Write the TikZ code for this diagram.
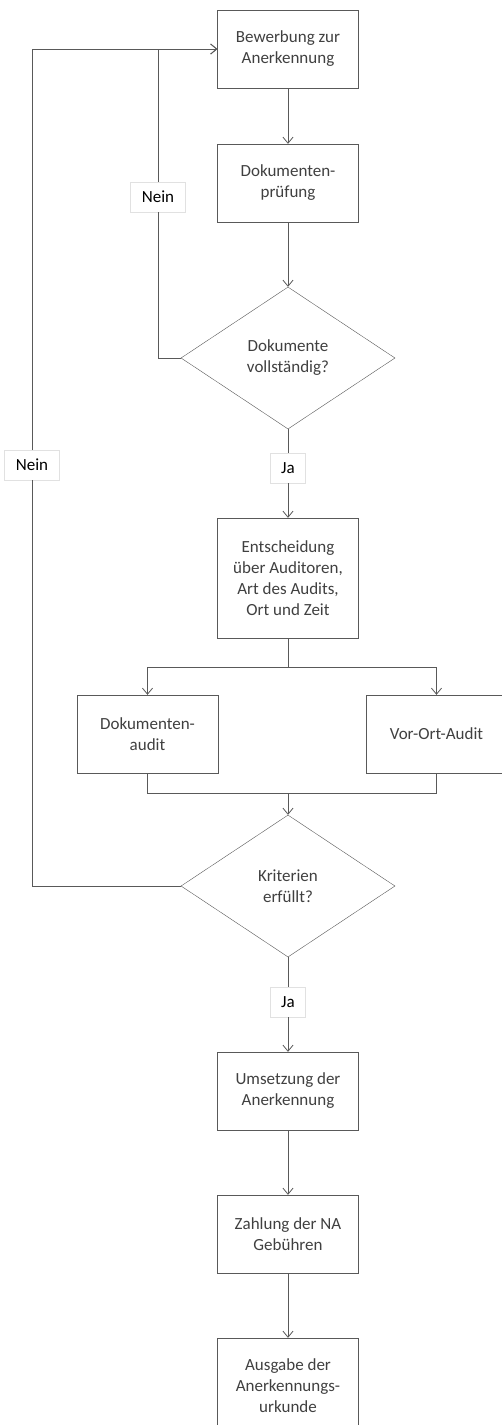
\documentclass[tikz,border=0pt]{standalone}
\usepackage{fontspec}
\setmainfont{Carlito}
\usepackage{xcolor}
\usetikzlibrary{arrows.meta, shapes.geometric, positioning}
\definecolor{LineGray}{RGB}{89,89,89}
\definecolor{TextGray}{RGB}{64,64,64}
\definecolor{FrameGray}{RGB}{225,225,225}
\tikzset{
	procbox/.style={draw=LineGray, fill=white, text=TextGray, align=center,
		minimum width=141pt, minimum height=78pt, inner sep=2pt},
	decision/.style={draw=LineGray, fill=white, text=TextGray, align=center,
		diamond, aspect=1.5, minimum width=214pt, minimum height=142pt, inner sep=0pt},
	answer/.style={draw=FrameGray, fill=white, text=black,
		minimum width=35pt, minimum height=30pt, inner sep=2pt},
	flow/.style={draw=LineGray, line width=0.8pt},
	tip/.style={-{Straight Barb[length=6pt, width=10pt]}}
}

\begin{document}
\begin{tikzpicture}[x=1pt, y=-1pt, font=\fontsize{17pt}{21pt}\selectfont]
				\fill[white] (0,0) rectangle (501,1425);
				\useasboundingbox (0,0) rectangle (501,1425);
				\node[procbox] (bew) at (288,49) {Bewerbung zur\\Anerkennung};
				\node[procbox] (pruef) at (288,183) {Dokumenten-\\prüfung};
				\node[decision] (voll) at (288,358) {Dokumente\\vollständig?};
				\node[answer] (ja1) at (288,468) {Ja};
				\node[answer, minimum width=55pt] (nein1) at (158,197) {Nein};
				\node[procbox, minimum height=120pt] (entsch) at (288,578)
					{Entscheidung\\über Auditoren,\\Art des Audits,\\Ort und Zeit};
				\node[procbox] (dokaudit) at (147.5,734) {Dokumenten-\\audit};
				\node[procbox] (vorort) at (436.5,734) {Vor-Ort-Audit};
				\node[decision] (krit) at (288,886) {Kriterien\\erfüllt?};
				\node[answer, minimum width=55pt] (nein2) at (32,465) {Nein};
				\node[answer] (ja2) at (288,1002) {Ja};
				\node[procbox] (umsetz) at (288,1091) {Umsetzung der\\Anerkennung};
				\node[procbox] (zahl) at (288,1234) {Zahlung der NA\\Gebühren};
				\node[procbox, minimum height=96pt] (ausg) at (288,1386)
					{Ausgabe der\\Anerkennungs-\\urkunde};
				\coordinate (split) at (288,667);
				\coordinate (merge) at (288,793);
				% main line
				\draw[flow, tip] (bew) -- (pruef);
				\draw[flow, tip] (pruef) -- (voll);
				\draw[flow] (voll) -- (ja1);
				\draw[flow, tip] (ja1) -- (entsch);
				\draw[flow] (entsch) -- (split);
				\draw[flow, tip] (split) -| (dokaudit.north);
				\draw[flow, tip] (split) -| (vorort.north);
				\draw[flow] (dokaudit.south) |- (merge) -| (vorort.south);
				\draw[flow, tip] (merge) -- (krit);
				\draw[flow] (krit) -- (ja2);
				\draw[flow, tip] (ja2) -- (umsetz);
				\draw[flow, tip] (umsetz) -- (zahl);
				\draw[flow, tip] (zahl) -- (ausg);
				% loops back
				\draw[flow] (voll.west) -| (nein1.south);
				\draw[flow, tip] (nein1.north) |- (bew.west);
				\draw[flow] (krit.west) -| (nein2.south);
				\draw[flow, tip] (nein2.north) |- (bew.west);
			\end{tikzpicture}
\end{document}
